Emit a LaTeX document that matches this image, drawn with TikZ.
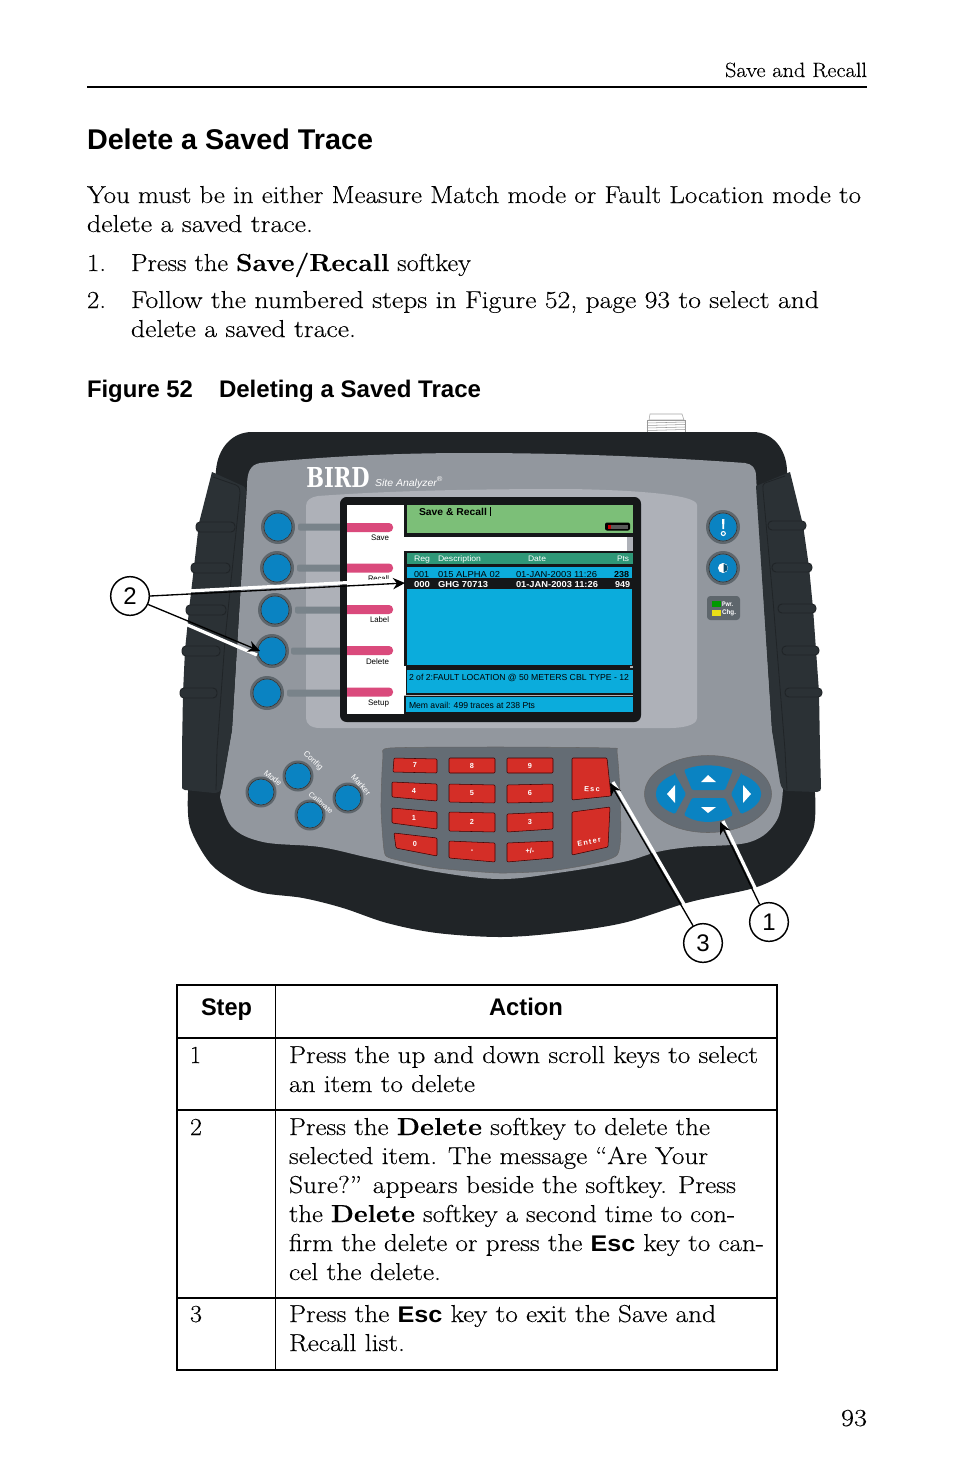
\documentclass[tikz,border=0pt]{standalone}
\usepackage{fontspec}
\usepackage{graphicx}
\usetikzlibrary{arrows.meta,calc}
\newfontfamily\hv{Liberation Sans}
\newfontfamily\logofam{DejaVu Serif}
\newfontfamily\bodyfam[FakeBold=0.25,BoldFeatures={FakeBold=0.1}]{Latin Modern Roman}
\newcommand\bodyf{\bodyfam\fontsize{18.4pt}{20pt}\selectfont}
\newcommand\headf{\bodyfam\fontsize{15.5pt}{20pt}\selectfont}
\newcounter{tn}
\newcommand\bl[5][\bodyf]{\stepcounter{tn}\pgfmathsetmacro\wdv{(#4-#2)*0.75}%
 \node[anchor=base west,inner sep=0pt,outer sep=0pt] (t\thetn) at (#2,#3) {#1\resizebox*{\wdv pt}{\totalheight}{#5}};}
\newcommand\sm[1]{\hv\fontsize{#1pt}{#1pt}\selectfont}
\definecolor{bodyc}{HTML}{202427}
\definecolor{gripc}{HTML}{2B3135}
\definecolor{platec}{HTML}{92979E}
\definecolor{panelc}{HTML}{AEB1B8}
\definecolor{scrc}{HTML}{151719}
\definecolor{greenc}{HTML}{7CBF78}
\definecolor{tealc}{HTML}{2F9878}
\definecolor{scrblue}{HTML}{0BACDC}
\definecolor{btnblue}{HTML}{0A83C2}
\definecolor{ringc}{HTML}{5E666C}
\definecolor{barc}{HTML}{79838A}
\definecolor{pinkc}{HTML}{DA4A7C}
\definecolor{keyc}{HTML}{D42E27}
\definecolor{padc}{HTML}{646C74}
\tikzset{
 softbtn/.pic={\fill[ringc] (0,0) circle (17); \draw[black!80,line width=.5pt] (0,0) circle (14); \fill[btnblue] (0,0) circle (13.5);},
 smallbtn/.pic={\fill[ringc] (0,0) circle (15.5); \draw[black!80,line width=.5pt] (0,0) circle (13); \fill[btnblue] (0,0) circle (12.5);},
 keyf/.style={fill=keyc,draw=black!75!red,line width=.4pt,rounded corners=.8pt},
 navf/.style={fill=btnblue,rounded corners=1pt},
 callout/.style={circle,draw=black,fill=white,line width=1.1pt,minimum size=29pt,inner sep=0pt,font={\sm{18}}},
 halo/.style={white,line width=2.4pt},
 lead/.style={black,line width=1pt,-{Stealth[length=9pt,width=8.5pt]}},
 band/.style={fill=gripc,draw=bodyc,line width=.7pt,rounded corners=3pt},
 whitelabel/.style={white,inner sep=0pt,font={\sm{6}}},
 keylabel/.style={white,inner sep=0pt,font={\sm{5.5}\bfseries}},
 pad/.style={inner sep=0pt},
}
\begin{document}
\begin{tikzpicture}[x=0.75pt,y=-0.75pt]
\useasboundingbox (0,0) rectangle (954,1475);
\fill[white] (0,0) rectangle (954,1475);
% page head
\bl[\headf]{725}{77}{867}{Save and Recall}
\draw[black,line width=1.5pt] (87,87) -- (867,87);
\bl[\hv\bfseries\fontsize{21.4pt}{24pt}\selectfont]{87}{149}{373}{Delete a Saved Trace}
\bl{87}{203}{861}{You must be in either Measure Match mode or Fault Location mode to}
\bl{87}{232}{313}{delete a saved trace.}
\bl{87}{271}{106}{1.}
\bl{131}{271}{471}{Press the \textbf{Save/Recall} softkey}
\bl{87}{308}{106}{2.}
\bl{131}{308}{819}{Follow the numbered steps in Figure 52, page 93 to select and}
\bl{131}{337}{356}{delete a saved trace.}
\bl[\hv\bfseries\fontsize{18pt}{20pt}\selectfont]{87}{397}{193}{Figure 52}
\bl[\hv\bfseries\fontsize{18pt}{20pt}\selectfont]{219}{397}{481}{Deleting a Saved Trace}
% connector
\draw[fill=white,draw=gray!70,line width=.4pt] (649,420) -- (650,414) -- (682,414) -- (684,420) -- cycle;
\draw[fill=white,draw=gray!80,line width=.4pt] (647,420) rectangle (685,432);
\foreach \yy in {423,425.5,428,430.5} \draw[gray!80,line width=.4pt] (647,\yy) -- (685,\yy-1);
% body
\fill[bodyc] (216,470) .. controls (218,448) and (232,432) .. (252,432) -- (753,432)
 .. controls (772,432) and (786,448) .. (787,470) -- (815,793)
 -- plot[smooth,tension=.55] coordinates {(815,793)(813,830)(790,867)(757,887)(690,902)(623,923)(557,933)(500,937)(437,933)(387,923)(343,908)(303,898)(263,893)(237,883)(210,863)(190,827)(188,793)} -- cycle;
% plate
\fill[platec] (247,487) .. controls (247,472) and (250,465) .. (260,463)
 .. controls (330,456) and (400,453) .. (470,453) .. controls (570,453) and (660,457) .. (745,463)
 .. controls (752,464) and (756,468) .. (756,476) -- (772,730) -- (783,787)
 -- plot[smooth,tension=.6] coordinates {(783,787)(777,820)(750,842)(690,847)(657,852)(623,862)(557,873)(500,879)(437,872)(370,858)(320,847)(263,842)(232,827)(220,797)} -- (232,730) -- cycle;
% left grip
\fill[gripc] (212,472) -- (243,486) .. controls (246,488) and (246,490) .. (246,492) -- (232,730) -- (222,788) .. controls (221,791) and (218,793) .. (214,793) -- (185,790) .. controls (182,790) and (182,788) .. (182,786) -- (182,750) -- (183,693) -- (185,650) -- (189,610) -- (194,567) -- (199,523) -- cycle;
\draw[bodyc,line width=.6pt] (213,477) -- (236,485) .. controls (240,487) and (240,490) .. (240,493) -- (225,640) -- (217,750) -- (216,790);
\draw[band] (196,522) rectangle (235,532);
\draw[band] (191,563) rectangle (230,573);
\draw[band] (186,605) rectangle (226,615);
\draw[band] (182,646) rectangle (220,656);
\draw[band] (180,688) rectangle (217,698);
% right grip
\fill[gripc] (790,472) -- (756,486) -- (772,730) -- (780,782) .. controls (781,788) and (784,791) .. (788,791) -- (817,792) .. controls (820,792) and (821,790) .. (821,788) -- (820,750) -- (819,692) -- (816,650) -- (813,608) -- (809,567) -- (803,525) -- cycle;
\draw[bodyc,line width=.6pt] (785,476) -- (765,483) .. controls (762,485) and (763,488) .. (763,490) -- (773,600) -- (785,750) -- (787,790);
\draw[band] (768,521) rectangle (806,530);
\draw[band] (772,563) rectangle (812,572);
\draw[band] (778,604) rectangle (816,613);
\draw[band] (782,646) rectangle (819,655);
\draw[band] (785,688) rectangle (822,697);
% logo
\node[anchor=base west,pad,white] (logo) at (306,487) {\resizebox*{47.5pt}{15pt}{\logofam\bfseries BIRD}};
\bl[\hv\itshape\color{white}\fontsize{7.5pt}{8pt}\selectfont]{375}{486}{443}{Site Analyzer\textsuperscript{®}}
% panel
\fill[panelc] (306,506) .. controls (306,500) and (311,497) .. (318,496) .. controls (400,490) and (490,489) .. (570,489)
 .. controls (630,490) and (697,494) .. (697,505) -- (697,718) .. controls (697,726) and (680,728) .. (670,728) -- (320,728) .. controls (311,728) and (306,724) .. (306,718) -- cycle;
% softkey connector bars
\foreach \xx/\yy in {298/527,297/568,295/610,291/651,287/693}
 \fill[barc,rounded corners=1.5pt] (\xx,\yy-3.5) rectangle (342,\yy+3.5);
% screen
\fill[scrc,rounded corners=5pt] (340,497) rectangle (641,722);
\fill[white] (347,505) rectangle (404,714);
\fill[white] (404,537) rectangle (628,551);
\fill[panelc] (627,537) rectangle (633,551);
\fill[greenc] (407,505) rectangle (633,533);
\fill[tealc] (407,553) rectangle (633,564);
\fill[scrblue] (407,567) rectangle (632,665);
\fill[scrc] (404,578) rectangle (633,589);
\fill[white] (404,666) rectangle (406,696);
\fill[gray!60] (630,666) rectangle (633,668);
\fill[scrblue] (407,669.5) rectangle (633,693);
\fill[gray!60] (404,695) rectangle (633,696);
\fill[scrblue] (406,697) rectangle (633,712);
% battery
\fill[black,rounded corners=1.5pt] (605,522.5) rectangle (630,530.5);
\fill[gray!70!black] (610,524.5) rectangle (628,528.5);
\fill[red!80!black] (608,524.5) rectangle (611,528.5);
% pink softkeys
\foreach \yy in {527.5,568,609.5,650.5,692}
 \fill[pinkc,rounded corners=3pt] (340,\yy-4.5) rectangle (393,\yy+4.5);
\fill[scrc] (340,515) rectangle (347,700);
% softkey labels
\bl[\sm{6}\color{black}]{371}{540}{389}{Save}
\bl[\sm{6}]{368}{581}{389}{Recall}
\bl[\sm{6}]{370}{622}{389}{Label}
\bl[\sm{6}]{366}{664}{389}{Delete}
\bl[\sm{6}]{368}{705}{389}{Setup}
% screen text
\bl[\sm{7.5}\bfseries]{419}{515}{487}{Save \& Recall}
\draw[black,line width=.4pt] (490,507) -- (490,516);
\bl[\sm{6}\color{white}]{414}{561}{430}{Reg}
\bl[\sm{6}\color{white}]{438}{561}{481}{Description}
\bl[\sm{6}\color{white}]{528}{561}{546}{Date}
\bl[\sm{6}\color{white}]{617}{561}{629}{Pts}
\bl[\sm{6.5}]{414}{577}{429}{001}
\bl[\sm{6.5}]{438}{577}{500}{015 ALPHA 02}
\bl[\sm{6.5}]{516}{577}{597}{01-JAN-2003 11:26}
\bl[\sm{6.5}\bfseries]{614}{577}{629}{238}
\bl[\sm{6.5}\bfseries\color{white}]{414}{587}{430}{000}
\bl[\sm{6.5}\bfseries\color{white}]{438}{587}{488}{GHG 70713}
\bl[\sm{6.5}\bfseries\color{white}]{516}{587}{598}{01-JAN-2003 11:26}
\bl[\sm{6.5}\bfseries\color{white}]{615}{587}{630}{949}
\bl[\sm{6.5}]{409}{680}{629}{2 of 2:FAULT LOCATION @ 50 METERS CBL TYPE - 12}
\bl[\sm{6.5}]{409}{708}{535}{Mem avail: 499 traces at 238 Pts}
% softkey buttons
\foreach \xx/\yy in {278/527,277/568,275/610,272/651,267/693} \pic at (\xx,\yy) {softbtn};
\foreach \xx/\yy in {723/527,723/568} \pic at (\xx,\yy) {softbtn};
% right button glyphs
\fill[white] (722,519) -- (724.5,519) -- (724,529) -- (722.5,529) -- cycle;
\draw[white,line width=.8pt] (723.3,533.5) circle (2);
\fill[white] (723,568) circle (5);
\fill[btnblue!60!black] (723.5,563.8) arc[start angle=-90,end angle=90,radius=4.2] -- cycle;
% power box
\fill[ringc,rounded corners=2.5pt] (707,596) rectangle (740,620);
\fill[green!60!black] (712,601) rectangle (721,607);
\fill[yellow!90!black] (712,610) rectangle (721,616);
\bl[\sm{5}\bfseries\color{white}]{722}{606}{733}{Pwr.}
\bl[\sm{5}\bfseries\color{white}]{722}{614}{736}{Chg.}
% bottom-left buttons
\foreach \xx/\yy in {261/792,298/776,310/815,348/798} \pic at (\xx,\yy) {smallbtn};
\node[whitelabel,rotate=-38] (lmode) at (273,778) {Mode};
\node[whitelabel,rotate=-42] (lconfig) at (313,761) {Config};
\node[whitelabel,rotate=-48] (lmarker) at (361,785) {Marker};
\node[whitelabel,rotate=-40,font={\sm{5.5}}] (lcal) at (321,803) {Calibrate};
% keypad
\fill[padc,draw=black!60,line width=.4pt] plot[smooth cycle,tension=.35] coordinates {(383,757)(390,748)(500,747)(610,748)(617,752)(620,797)(617,855)(557,870)(500,873)(437,868)(390,858)(384,850)(381,807)};
\draw[keyf] (394,758)--(437,759)--(437,773)--(393,772)--cycle;
\draw[keyf] (392,782)--(437,784)--(437,801)--(392,797)--cycle;
\draw[keyf] (392,808)--(437,812)--(437,829)--(392,823)--cycle;
\draw[keyf] (394,833)--(437,838)--(437,856)--(396,848)--cycle;
\draw[keyf] (449,758)--(495,758)--(495,773)--(449,773)--cycle;
\draw[keyf] (449,784)--(495,785)--(495,803)--(449,802)--cycle;
\draw[keyf] (449,812)--(495,813)--(495,832)--(449,831)--cycle;
\draw[keyf] (449,841)--(495,843)--(495,862)--(449,858)--cycle;
\draw[keyf] (507,758)--(553,758)--(553,773)--(507,773)--cycle;
\draw[keyf] (507,785)--(553,784)--(553,802)--(507,803)--cycle;
\draw[keyf] (507,814)--(553,812)--(553,829)--(507,832)--cycle;
\draw[keyf] (507,843)--(553,841)--(553,858)--(507,862)--cycle;
\draw[keyf] (572,758)--(607,758)--(611,796)--(572,800)--cycle;
\draw[keyf] (572,812)--(610,807)--(608,847)--(572,855)--cycle;
\node[keylabel] (k7) at (415,765) {7};
\node[keylabel] (k8) at (472,766) {8};
\node[keylabel] (k9) at (530,766) {9};
\node[keylabel] (k4) at (414,791) {4};
\node[keylabel] (k5) at (472,793) {5};
\node[keylabel] (k6) at (530,793) {6};
\node[keylabel] (k1) at (414,818) {1};
\node[keylabel] (k2) at (472,822) {2};
\node[keylabel] (k3) at (530,822) {3};
\node[keylabel] (k0) at (415,844) {0};
\node[keylabel] (kd) at (472,851) {-};
\node[keylabel] (kp) at (530,851) {+/-};
\node[keylabel,rotate=-3] (kesc) at (592,789) {E\,s\,c};
\node[keylabel,rotate=10] (kent) at (589,842) {E\,n\,t\,e\,r};
% nav pad
\fill[padc,draw=black!60,line width=.4pt] (708,794) ellipse (63.5 and 38.5);
\fill[navf] (684,770) .. controls (698,764) and (718,764) .. (733,770) -- (725,790) -- (692,790) -- cycle;
\fill[navf] (692,798) -- (725,798) -- (733,815) .. controls (718,824) and (698,824) .. (684,815) -- cycle;
\fill[navf] (675,774) -- (686,794) -- (675,814) .. controls (660,808) and (656,800) .. (656,794) .. controls (656,788) and (660,780) .. (675,774) -- cycle;
\fill[navf] (741,774) -- (731,794) -- (741,814) .. controls (756,808) and (761,800) .. (761,794) .. controls (761,788) and (756,780) .. (741,774) -- cycle;
\fill[white] (701,782) -- (716,782) -- (708,775) -- cycle;
\fill[white] (701,807) -- (716,807) -- (708,813) -- cycle;
\fill[white] (675,785) -- (675,803) -- (667,794) -- cycle;
\fill[white] (743,785) -- (743,803) -- (751,794) -- cycle;
% callouts
\coordinate (rowtip) at (405,583);
\coordinate (deltip) at (260,651);
\coordinate (downtip) at (720,822);
\coordinate (esctip) at (610,783);
\node[callout] (c2) at (130,596) {2};
\node[callout] (c1) at (769,922) {1};
\node[callout] (c3) at (703,943) {3};
\draw[halo] ($(c2.east)+(0,-3)$) -- ($(rowtip)+(-8,-3)$);
\draw[halo] ($(c2.-25)+(-1,3)$) -- ($(deltip)+(-3,4)$);
\draw[halo] ($(c1.118)+(2.7,-1.3)$) -- ($(downtip)+(3,-1)$);
\draw[halo] ($(c3.120)+(2.6,-1.5)$) -- ($(esctip)+(3,-1)$);
\draw[lead] (c2.east) -- (rowtip);
\draw[lead] (c2.-25) -- (deltip);
\draw[lead] (c1.118) -- (downtip);
\draw[lead] (c3.120) -- (esctip);
% table
\draw[black,line width=.9pt] (177,985) rectangle (777,1370);
\draw[black,line width=.9pt] (275.5,985) -- (275.5,1370);
\foreach \yy in {1038,1110,1298} \draw[black,line width=.9pt] (177,\yy) -- (777,\yy);
\bl[\hv\bfseries\fontsize{18pt}{20pt}\selectfont]{201}{1015}{252}{Step}
\bl[\hv\bfseries\fontsize{18pt}{20pt}\selectfont]{489}{1015}{563}{Action}
\bl{190}{1063}{201}{1}
\bl{289}{1063}{758}{Press the up and down scroll keys to select}
\bl{289}{1092}{475}{an item to delete}
\bl{190}{1135}{202}{2}
\bl{289}{1135}{710}{Press the \textbf{Delete} softkey to delete the}
\bl{289}{1164}{708}{selected item. The message “Are Your}
\bl{289}{1193}{736}{Sure?” appears beside the softkey. Press}
\bl{289}{1222}{735}{the \textbf{Delete} softkey a second time to con-}
\bl{289}{1251}{764}{firm the delete or press the {\hv\bfseries\fontsize{17pt}{20pt}\selectfont Esc} key to can-}
\bl{289}{1280}{441}{cel the delete.}
\bl{190}{1322}{202}{3}
\bl{289}{1322}{716}{Press the {\hv\bfseries\fontsize{17pt}{20pt}\selectfont Esc} key to exit the Save and}
\bl{289}{1351}{405}{Recall list.}
\bl{841}{1426}{867}{93}
\end{tikzpicture}
\end{document}
